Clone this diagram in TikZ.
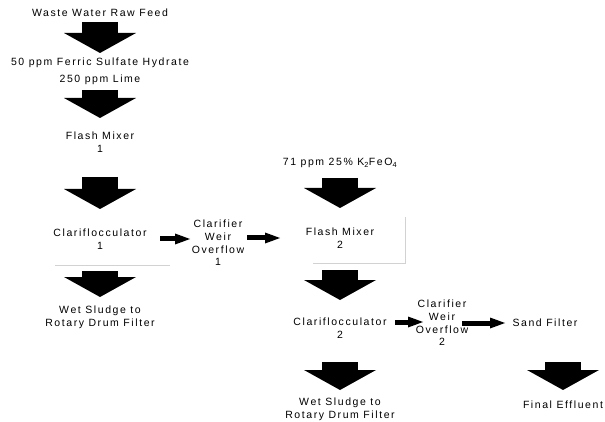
\documentclass[tikz,border=0pt]{standalone}
\usepackage{fontspec}
\setmainfont[LetterSpace=15]{Liberation Sans}
\usetikzlibrary{arrows.meta,calc}
\tikzset{
  lbl/.style={align=center,inner sep=0pt,font=\fontsize{10.5}{12.7}\selectfont},
  bigarrow/.style={line width=36pt,-{Triangle[length=20pt,width=72pt,line width=0pt]}},
  smallarrow/.style={line width=5pt,-{Triangle[length=15pt,width=11pt,line width=0pt]}},
  faint/.style={draw=gray!35,line width=0.8pt},
}

\begin{document}
\begin{tikzpicture}[x=1pt,y=-1pt]
\useasboundingbox (0,0) rectangle (605,422);

\node[lbl] (feed) at (100,13) {Waste Water Raw Feed};
\node[lbl] (chem) at (100,63) {50 ppm Ferric Sulfate Hydrate};
\node[lbl] (lime) at (100,80) {250 ppm Lime};
\node[lbl] (mixA) at (100,142) {Flash Mixer\\1};
\node[lbl] (clarA) at (100,239) {Clariflocculator\\1};
\node[lbl] (sludgeA) at (100,317) {Wet Sludge to\\Rotary Drum Filter};
\node[lbl] (weirA) at (218,243) {Clarifier\\Weir\\Overflow\\1};
\node[lbl] (kfe) at (340,163) {71 ppm 25\% K\textsubscript{2}FeO\textsubscript{4}};
\node[lbl] (mixB) at (340,238) {Flash Mixer\\2};
\node[lbl] (clarB) at (340,328) {Clariflocculator\\2};
\node[lbl] (sludgeB) at (340,409) {Wet Sludge to\\Rotary Drum Filter};
\node[lbl] (weirB) at (442,323) {Clarifier\\Weir\\Overflow\\2};
\node[lbl] (sand) at (545,323) {Sand Filter};
\node[lbl] (effl) at (563,405) {Final Effluent};

% faint box edges left by the scan
\draw[faint] (313,263) -- (405,263) -- (405,217);
\draw[faint] (55,265) -- (170,265);

% main flow, downwards
\draw[bigarrow,shorten <=9pt,shorten >=10pt] (feed.center) -- (chem.center);
\draw[bigarrow,shorten <=10pt,shorten >=24pt] (lime.center) -- (mixA.center);
\draw[bigarrow,shorten <=35pt,shorten >=30pt] (mixA.center) -- (clarA.center);
\draw[bigarrow,shorten <=32pt,shorten >=20pt] (clarA.center) -- (sludgeA.center);
\draw[bigarrow,shorten <=15pt,shorten >=30pt] (kfe.center) -- (mixB.center);
\draw[bigarrow,shorten <=32pt,shorten >=28pt] (mixB.center) -- (clarB.center);
\draw[bigarrow,shorten <=34pt,shorten >=19pt] (clarB.center) -- (sludgeB.center);
\draw[bigarrow,shorten <=39pt,shorten >=15pt] (effl |- sand) -- (effl.center);

% overflows, to the right
\draw[smallarrow,shorten <=60pt,shorten >=28pt] (clarA.center) -- (clarA -| weirA);
\draw[smallarrow,shorten <=29pt,shorten >=60pt] (mixB -| weirA) -- (mixB.center);
\draw[smallarrow,shorten <=55pt,shorten >=19pt] ([yshift=6pt]clarB.center) -- ([yshift=6pt]clarB.center -| weirB);
\draw[smallarrow,shorten <=20pt,shorten >=40pt] (sand -| weirB) -- (sand.center);

\end{tikzpicture}
\end{document}
